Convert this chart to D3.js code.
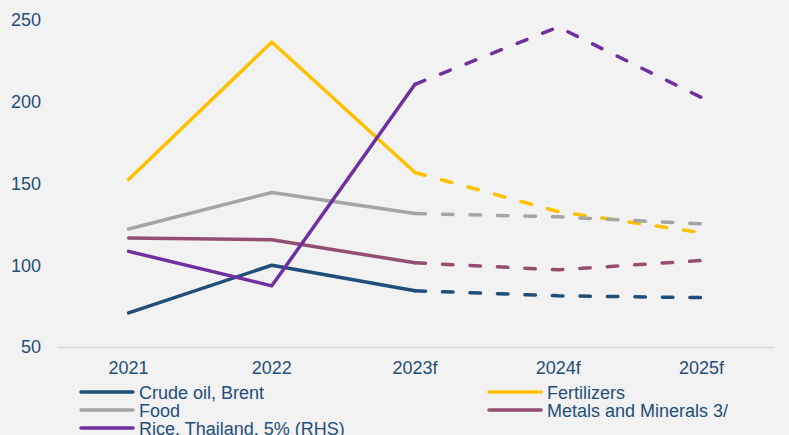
<!DOCTYPE html>
<html>
<head>
<meta charset="utf-8">
<script src="https://cdn.jsdelivr.net/npm/d3@7"></script>
<style>
  html, body { margin: 0; padding: 0; background: #f2f2f2; }
  svg { display: block; }
  text { font-family: "Liberation Sans", Arial, sans-serif; }
</style>
</head>
<body>
<svg id="chart" width="789" height="435"></svg>
<script>
const categories = ["2021", "2022", "2023f", "2024f", "2025f"];
const yTicks = [50, 100, 150, 200, 250];

const crudeOil = [70.9, 100, 84.4, 81.3, 80.2];
const fertilizers = [152.5, 236.5, 156.7, 132.8, 120];
const food = [122.2, 144.5, 131.6, 129.6, 125.3];
const metals = [116.7, 115.6, 101.5, 97.2, 102.9];
const rice = [108.5, 87.4, 210.7, 245.7, 202.6];

const seriesNames = ["Crude oil, Brent", "Fertilizers", "Food", "Metals and Minerals 3/", "Rice, Thailand, 5% (RHS)"];
const seriesColors = ["#1f4e79", "#ffc000", "#a5a5a5", "#944f70", "#7030a0"];
const seriesValues = [crudeOil, fertilizers, food, metals, rice];
const firstForecastIndex = 2;

(function () {
const svg = d3.select("#chart");
const W = 789, H = 435;
const mLeft = 57, mRight = 773, mTop = 20, mBottom = 347;

const x = d3.scaleBand().domain(categories).range([mLeft, mRight]);
const y = d3.scaleLinear().domain([50, 250]).range([mBottom, mTop]);
const cx = d => x(d) + x.bandwidth() / 2;

svg.append("rect").attr("width", W).attr("height", H).attr("fill", "#f2f2f2");

// Y axis (labels only)
const yAxis = svg.append("g")
  .attr("transform", `translate(${mLeft - 16},0)`)
  .call(d3.axisLeft(y).tickValues(yTicks).tickSize(0).tickPadding(0));
yAxis.select(".domain").remove();
yAxis.selectAll("text")
  .attr("font-size", 18)
  .attr("fill", "#1f4e79")
  .attr("font-family", "Liberation Sans, Arial, sans-serif");

// X axis
const xAxis = svg.append("g")
  .attr("transform", `translate(0,${mBottom})`)
  .call(d3.axisBottom(x).tickSize(0).tickPadding(14));
xAxis.select(".domain").attr("stroke", "#d9d9d9").attr("stroke-width", 1.5);
xAxis.selectAll("text")
  .attr("font-size", 18)
  .attr("fill", "#1f4e79")
  .attr("font-family", "Liberation Sans, Arial, sans-serif");

const line = d3.line().x(d => cx(d.c)).y(d => y(d.v));

seriesValues.forEach((vals, i) => {
  const pts = vals.map((v, j) => ({ c: categories[j], v }));
  svg.append("path")
    .attr("d", line(pts.slice(0, firstForecastIndex + 1)))
    .attr("fill", "none")
    .attr("stroke", seriesColors[i])
    .attr("stroke-width", 3.5)
    .attr("stroke-linejoin", "round")
    .attr("stroke-linecap", "round");
  svg.append("path")
    .attr("d", line(pts.slice(firstForecastIndex)))
    .attr("fill", "none")
    .attr("stroke", seriesColors[i])
    .attr("stroke-width", 3.5)
    .attr("stroke-dasharray", "10.5,17")
    .attr("stroke-linejoin", "round")
    .attr("stroke-linecap", "round");
});

// Legend
const legendPos = [
  { x: 81, y: 392 }, { x: 489, y: 392 },
  { x: 81, y: 410 }, { x: 489, y: 410 },
  { x: 81, y: 428 }
];
seriesNames.forEach((name, i) => {
  const p = legendPos[i];
  const g = svg.append("g").attr("transform", `translate(${p.x},${p.y})`);
  g.append("line").attr("x1", 0).attr("x2", 52).attr("y1", 0).attr("y2", 0)
    .attr("stroke", seriesColors[i]).attr("stroke-width", 3.5).attr("stroke-linecap", "round");
  g.append("text").attr("x", 58).attr("y", 6.5)
    .attr("font-size", 18).attr("fill", "#1f4e79").text(name);
});
})();
</script>
</body>
</html>
